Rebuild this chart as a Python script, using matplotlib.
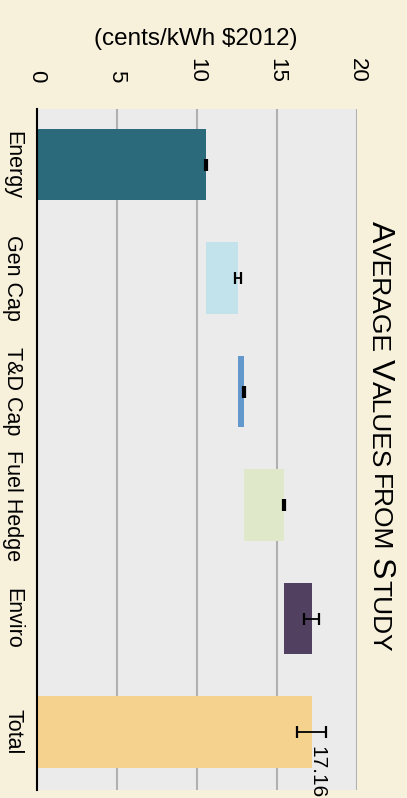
import matplotlib
matplotlib.use("Agg")
import matplotlib.pyplot as plt
import numpy as np

plt.rcParams['font.family'] = ['Liberation Sans', 'DejaVu Sans']

# data (cents/kWh $2012)
categories = ["Energy", "Gen Cap", "T&D Cap", "Fuel Hedge", "Enviro", "Total"]
increments = [10.56, 2.00, 0.37, 2.51, 1.72]
total = 17.16
errors = [0.08, 0.17, 0.06, 0.06, 0.48, 0.88]
colors = ["#2A6A7A", "#C3E3EC", "#6398CC", "#DFE8C8", "#51405F", "#F6D28F"]
xticks = [0, 5, 10, 15, 20]

W, H = 407, 798
bg = "#F7F0DB"
fig = plt.figure(figsize=(W / 100, H / 100), dpi=100, facecolor=bg)
ax = fig.add_axes([37 / W, 8 / H, 320 / W, 681 / H])
ax.set_facecolor("#EBEBEB")

pos = np.arange(len(categories))
ends = list(np.cumsum(increments)) + [total]
lefts = [0] + list(np.cumsum(increments)[:-1]) + [0]
widths = increments + [total]

ax.barh(pos, widths, left=lefts, height=0.63, color=colors, zorder=2)
ax.errorbar(ends, pos, xerr=errors, fmt='none', ecolor='black',
            elinewidth=1.3, capsize=4.3, capthick=1.6, zorder=3)
ax.text(total, 5.12, "17.16", rotation=-90, rotation_mode='anchor',
        ha='left', va='baseline', fontsize=15)

ax.set_xlim(0, 20)
ax.set_ylim(5.51, -0.49)
ax.set_xticks(xticks)
ax.xaxis.set_ticks_position('top')
ax.set_xticklabels([str(t) for t in xticks], rotation=-90, fontsize=16)
ax.tick_params(axis='x', length=0, pad=19)
ax.set_yticks(pos)
ax.set_yticklabels(categories, rotation=-90, va='center', fontsize=15.5)
ax.tick_params(axis='y', length=0, pad=10)
ax.xaxis.grid(True, color="#B0B0B0", linewidth=1.5)
ax.set_axisbelow(True)
for s in ['top', 'right', 'bottom']:
    ax.spines[s].set_visible(False)
ax.spines['left'].set_color('black')
ax.spines['left'].set_linewidth(1.5)

fig.text(196 / W, 1 - 39 / H, "(cents/kWh $2012)", ha='center', va='center', fontsize=17.5)

# title in small caps, rotated
r = fig.canvas.get_renderer()
big, small = 23, 19
pieces = [("A", big), ("VERAGE", small), (None, small), ("V", big), ("ALUES", small),
          (None, small), ("FROM", small), (None, small), ("S", big), ("TUDY", small)]
x0 = 372
y = H - 221
for s, fs in pieces:
    if s is None:
        y -= 0.26 * fs * 100 / 72
        continue
    t = fig.text(x0 / W, y / H, s, fontsize=fs, rotation=-90, rotation_mode='anchor',
                 ha='left', va='baseline')
    bb = t.get_window_extent(r)
    y -= bb.height

fig.savefig("out.png", dpi=100, facecolor=bg)
